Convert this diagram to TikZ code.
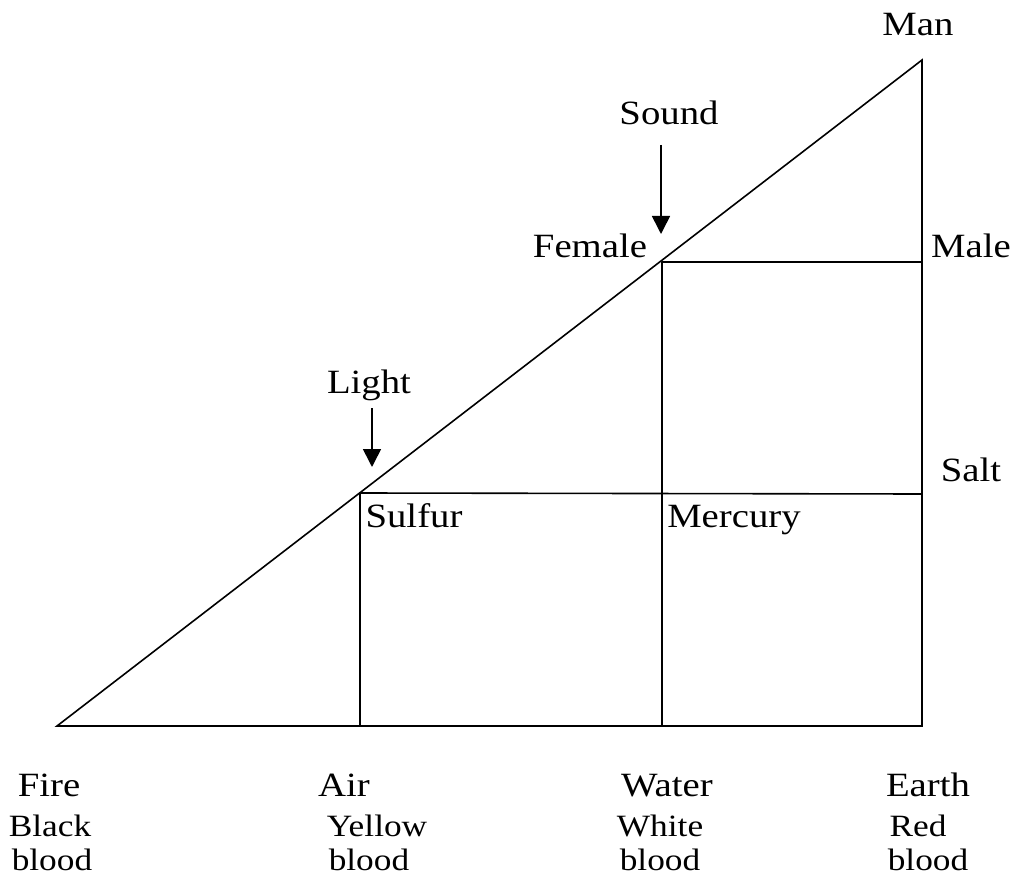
\documentclass[tikz,border=0pt]{standalone}
\usepackage{fontspec}
\setmainfont{Liberation Serif}
\usetikzlibrary{arrows.meta}
\newcommand\widetxt[1]{\scalebox{1.14}[1]{#1}}
\begin{document}
\begin{tikzpicture}[x=1pt,y=-1pt,
  lbl/.style={font=\fontsize{34}{36}\selectfont,anchor=base,inner sep=0pt},
  sub/.style={font=\fontsize{31}{33}\selectfont,anchor=base,inner sep=0pt},
  edge/.style={line width=1.6pt,line cap=round},
  pointer/.style={line width=1.6pt,-{Triangle[width=18pt,length=18pt]}}]
\useasboundingbox (0,0) rectangle (1015,877);
% corners
\coordinate (A) at (57,726);
\coordinate (B) at (922,726);
\coordinate (C) at (922,60);
\coordinate (P) at (360,493);
\coordinate (Q) at (662,262);
\coordinate (Pb) at (360,726);
\coordinate (Qb) at (662,726);
\coordinate (Pr) at (922,494);
\coordinate (Qr) at (922,262);
\draw[edge] (A) -- (B) -- (C) -- cycle;
\draw[edge] (P) -- (Pb);
\draw[edge] (Q) -- (Qb);
\draw[edge] (P) -- (Pr);
\draw[edge] (Q) -- (Qr);
% labels
\node[lbl] (man) at (918,36) {\widetxt{Man}};
\node[lbl] (sound) at (669,125) {\widetxt{Sound}};
\node[lbl] (female) at (590,258) {\widetxt{Female}};
\node[lbl] (male) at (971,258) {\widetxt{Male}};
\node[lbl] (light) at (369,393) {\widetxt{Light}};
\node[lbl] (salt) at (971,481) {\widetxt{Salt}};
\node[lbl] (sulfur) at (414,527) {\widetxt{Sulfur}};
\node[lbl] (mercury) at (734,527) {\widetxt{Mercury}};
\coordinate (st) at (661,145);
\coordinate (se) at (661,234);
\coordinate (lt) at (372,408);
\coordinate (le) at (372,467);
\draw[pointer] (st) -- (se);
\draw[pointer] (lt) -- (le);
% bottom labels
\node[lbl] (fire) at (49,796) {\widetxt{Fire}};
\node[sub] (fire1) at (50,836) {\widetxt{Black}};
\node[sub] (fire2) at (52,870) {\widetxt{blood}};
\node[lbl] (air) at (344,796) {\widetxt{Air}};
\node[sub] (air1) at (377,836) {\widetxt{Yellow}};
\node[sub] (air2) at (369,870) {\widetxt{blood}};
\node[lbl] (water) at (667,796) {\widetxt{Water}};
\node[sub] (water1) at (660,836) {\widetxt{White}};
\node[sub] (water2) at (660,870) {\widetxt{blood}};
\node[lbl] (earth) at (928,796) {\widetxt{Earth}};
\node[sub] (earth1) at (918,836) {\widetxt{Red}};
\node[sub] (earth2) at (928,870) {\widetxt{blood}};
\end{tikzpicture}
\end{document}
